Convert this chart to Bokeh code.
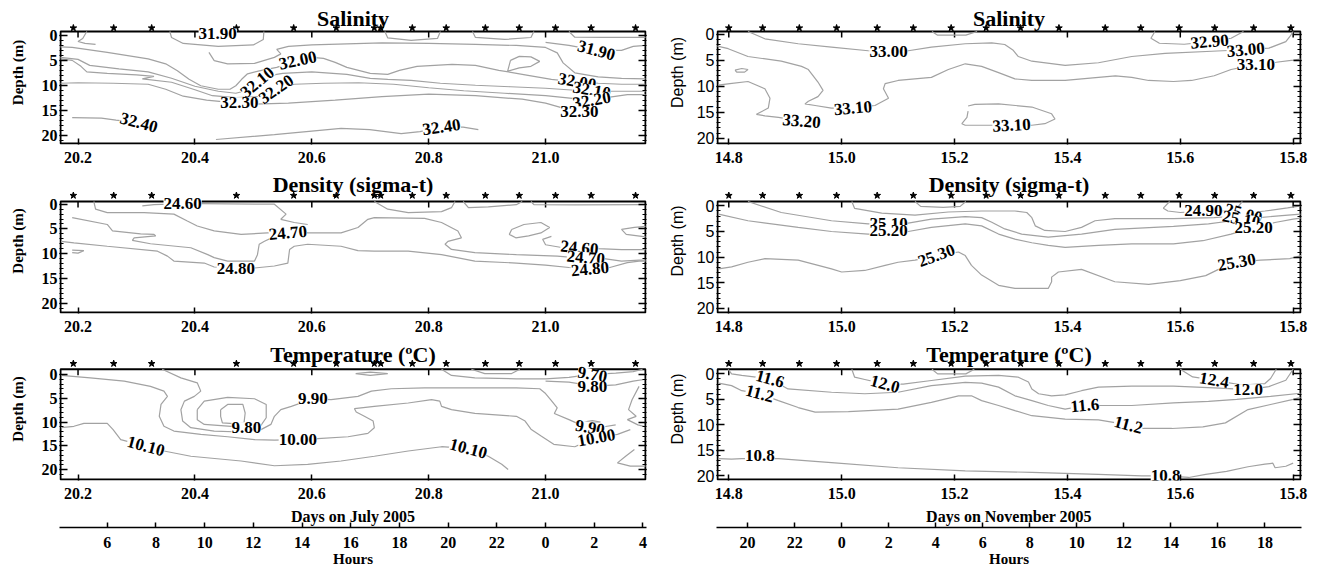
import math
from bokeh.plotting import figure
from bokeh.models import (Range1d, LinearAxis, FixedTicker, ColumnDataSource,
                          CustomJSTickFormatter, PrintfTickFormatter)
from bokeh.layouts import column, row
from bokeh.embed import file_html
from bokeh.resources import INLINE
from bokeh.core.properties import value

SERIF = "Liberation Serif"
SANS = "Liberation Sans"
LINE_COLOR = "#a2a2a2"

# ---------------- axes / ticks ----------------
JUL_DAY_TICKS = [20.2, 20.4, 20.6, 20.8, 21.0]
NOV_DAY_TICKS = [14.8, 15.0, 15.2, 15.4, 15.6, 15.8]
DEPTH_TICKS = [0, 5, 10, 15, 20]
DEPTH_MINOR = list(range(0, 22))
JUL_HOUR_POS = [6, 8, 10, 12, 14, 16, 18, 20, 22, 24, 26, 28]
JUL_HOUR_TXT = ["6", "8", "10", "12", "14", "16", "18", "20", "22", "0", "2", "4"]
NOV_HOUR_POS = [20, 22, 24, 26, 28, 30, 32, 34, 36, 38, 40, 42]
NOV_HOUR_TXT = ["20", "22", "0", "2", "4", "6", "8", "10", "12", "14", "16", "18"]

# day extent of each column and depth extent of each panel
JUL_DAYS = (20.17, 21.171)
NOV_DAYS = (14.78, 15.813)
JUL_DEPTHS = [(-0.8, 21.7), (-0.55, 21.9), (-1.1, 22.1)]
NOV_DEPTHS = [(-0.5, 21.0), (-0.85, 20.8), (-0.9, 20.7)]

# CTD cast times (stars above each panel)
JUL_STARS = [20.192, 20.261, 20.326, 20.471, 20.569, 20.642, 20.707, 20.718, 20.772,
             20.83, 20.897, 20.955, 21.017, 21.078, 21.154]
NOV_STARS = [14.80, 14.86, 14.925, 14.991, 15.063, 15.127, 15.194, 15.256, 15.317,
             15.385, 15.467, 15.53, 15.598, 15.661, 15.73, 15.796]

# ---------------- July: Salinity ----------------
LS_X = [
    [20.357, 20.36, 20.38, 20.44, 20.50, 20.517, 20.518],
    [20.725, 20.73, 20.77, 20.815, 20.82],
    [20.875, 20.88, 20.93, 20.975, 20.98],
    [21.04, 21.05, 21.10, 21.171],
    [21.00, 21.04, 21.087, 21.13, 21.15, 21.171],
    [20.215, 20.208, 20.20, 20.212, 20.23],
    [20.424, 20.433, 20.456, 20.502, 20.536, 20.547, 20.54, 20.56, 20.60, 20.66, 20.72, 20.80,
     20.88, 20.95, 21.00, 21.02, 21.03, 21.05, 21.09, 21.13, 21.171],
    [20.17, 20.19, 20.25, 20.32, 20.35, 20.37, 20.39, 20.41, 20.44, 20.46, 20.47, 20.48, 20.49,
     20.51, 20.54, 20.576, 20.60, 20.62, 20.64, 20.66, 20.70, 20.73, 20.75, 20.78, 20.84, 20.88,
     20.92, 20.97, 21.01, 21.04, 21.054, 21.09, 21.13, 21.171],
    [20.17, 20.20, 20.22, 20.27, 20.32, 20.36, 20.40, 20.44, 20.47, 20.49, 20.507, 20.52, 20.55,
     20.60, 20.66, 20.70, 20.73, 20.77, 20.82, 20.88, 20.94, 21.00, 21.05, 21.079, 21.11, 21.171],
    [20.17, 20.19, 20.205, 20.215, 20.25, 20.30, 20.33, 20.31, 20.36, 20.40, 20.43, 20.47, 20.51,
     20.539, 20.57, 20.62, 20.68, 20.74, 20.80, 20.86, 20.93, 21.00, 21.05, 21.079, 21.11, 21.14,
     21.171],
    [20.17, 20.20, 20.26, 20.32, 20.35, 20.38, 20.42, 20.455, 20.476, 20.50, 20.56, 20.64, 20.72,
     20.80, 20.88, 20.96, 21.00, 21.03, 21.058],
    [20.19, 20.24, 20.265, 20.30],
    [20.436, 20.536, 20.65, 20.699, 20.753, 20.785, 20.822, 20.859, 20.885],
    [20.94, 20.955, 20.975, 20.99, 20.975, 20.955, 20.935, 20.94],
]
LS_Y = [
    [-0.8, 0.4, 1.6, 2.2, 1.9, 0.8, -0.8],
    [-0.8, 0.5, 1.0, 0.6, -0.8],
    [-0.8, 0.4, 0.8, 0.4, -0.8],
    [-0.8, 0.35, 0.4, 0.4],
    [1.4, 2.0, 3.0, 3.0, 2.2, 2.0],
    [-0.8, 0.6, 1.2, 1.6, 1.8],
    [3.4, 5.05, 5.7, 5.6, 4.4, 3.7, 2.8, 2.2, 1.9, 1.7, 1.5, 1.6, 1.8, 2.0, 2.4, 3.5, 5.5, 7.5,
     8.3, 8.6, 8.7],
    [2.3, 2.4, 3.4, 4.7, 5.7, 7.1, 8.8, 10.1, 10.8, 10.8, 10.1, 8.8, 7.7, 7.1, 6.4, 5.0, 4.4, 4.6,
     5.4, 6.4, 7.6, 7.8, 7.0, 6.2, 5.8, 6.0, 7.0, 8.0, 8.8, 9.2, 9.3, 9.6, 9.8, 9.8],
    [4.4, 4.8, 6.0, 6.7, 7.3, 8.6, 10.2, 11.2, 11.6, 11.0, 9.4, 8.2, 7.6, 7.3, 7.8, 8.6, 8.8, 9.0,
     9.6, 10.0, 10.3, 10.6, 11.0, 11.0, 11.2, 11.2],
    [4.7, 5.0, 6.2, 7.3, 7.6, 7.9, 8.2, 8.7, 9.4, 10.9, 12.1, 12.5, 12.3, 10.8, 9.8, 9.6, 9.5,
     9.8, 10.5, 11.1, 11.6, 12.1, 12.7, 13.0, 12.4, 11.9, 11.9],
    [9.6, 9.5, 9.6, 9.8, 10.8, 12.2, 13.0, 13.4, 13.5, 13.8, 13.6, 13.0, 12.3, 11.8, 12.1, 12.8,
     13.6, 14.6, 15.3],
    [16.5, 16.6, 17.0, 17.5],
    [20.9, 19.9, 18.65, 18.9, 19.7, 19.3, 18.4, 18.4, 18.9],
    [5.0, 4.2, 4.3, 5.2, 6.2, 6.5, 7.2, 5.0],
]
LS_LAB_T = ["31.90", "32.00", "32.10", "32.20", "32.30", "32.40", "32.40", "31.90", "32.00",
            "32.10", "32.20", "32.30"]
LS_LAB_X = [20.439, 20.576, 20.507, 20.539, 20.476, 20.304, 20.822, 21.087, 21.054, 21.079,
            21.079, 21.058]
LS_LAB_Y = [-0.3, 5.0, 9.4, 10.8, 13.5, 17.5, 18.4, 3.0, 9.3, 11.0, 13.0, 15.3]
LS_LAB_A = [0, 12, 40, 35, 0, -15, 8, -15, -10, -10, 10, 0]

# ---------------- July: Density ----------------
LD_X = [
    [20.31, 20.33, 20.379, 20.41, 20.536, 20.556, 20.547, 20.57, 20.593],
    [20.227, 20.23, 20.25, 20.313, 20.364, 20.387, 20.404, 20.433, 20.479, 20.524, 20.559,
     20.593, 20.65, 20.679, 20.696, 20.707, 20.793, 20.822, 20.85, 20.856, 20.833, 20.828,
     20.839, 20.879, 20.95, 21.02, 21.05, 21.069, 21.10, 21.13, 21.16, 21.171],
    [20.171, 20.193, 20.25, 20.336, 20.353, 20.364, 20.416, 20.433, 20.47, 20.502, 20.536,
     20.559, 20.562, 20.57, 20.593, 20.65, 20.679, 20.707, 20.765, 20.822, 20.879, 20.95,
     21.00, 21.04, 21.076, 21.11, 21.14, 21.16, 21.171],
    [20.19, 20.25, 20.259, 20.307, 20.33, 20.333, 20.296, 20.293, 20.324, 20.393, 20.422,
     20.433, 20.456, 20.502, 20.507, 20.51, 20.519, 20.535],
    [20.707, 20.73, 20.765, 20.822, 20.839, 20.845],
    [20.859, 20.868, 20.902, 20.95, 20.96],
    [20.975, 20.98, 21.05, 21.171],
    [21.01, 20.995, 21.0, 21.03, 21.058, 21.09, 21.13, 21.171],
    [20.942, 20.963, 20.992, 21.007, 20.992, 20.971, 20.949, 20.938, 20.942],
    [21.171, 21.152, 21.13, 21.138, 21.171],
    [20.19, 20.21, 20.2, 20.19],
]
LD_Y = [
    [0.35, 0.1, -0.1, -0.1, 0.0, 2.0, 3.05, 3.7, 4.1],
    [-0.55, 1.0, 1.7, 1.7, 2.0, 3.4, 4.4, 5.4, 6.1, 5.8, 5.8, 5.8, 5.8, 4.7, 3.05, 2.7, 2.85,
     3.7, 5.4, 6.8, 7.5, 8.1, 9.15, 9.8, 10.2, 10.5, 10.8, 10.8, 11.0, 11.5, 11.3, 11.3],
    [7.5, 7.8, 8.5, 9.5, 10.5, 11.5, 11.9, 12.7, 12.9, 12.9, 12.5, 11.9, 9.15, 8.5, 8.1, 8.5,
     9.4, 9.5, 9.5, 10.2, 11.5, 11.9, 12.3, 12.8, 13.1, 12.8, 11.8, 11.5, 11.5],
    [2.7, 4.1, 5.4, 6.0, 6.1, 6.4, 6.8, 7.3, 8.0, 8.8, 10.2, 10.8, 11.5, 11.5, 10.2, 8.1, 7.5,
     6.6],
    [-0.55, 1.0, 1.7, 1.5, 0.7, -0.55],
    [-0.55, 0.7, 0.55, 0.1, -0.55],
    [-0.55, 0.1, 0.15, 0.1],
    [6.5, 7.1, 8.2, 8.8, 8.8, 9.0, 9.2, 9.2],
    [5.1, 4.1, 3.7, 4.7, 5.8, 6.4, 6.8, 6.1, 5.1],
    [4.5, 4.7, 5.1, 6.1, 6.6],
    [9.3, 9.4, 9.9, 9.8],
]
LD_LAB_T = ["24.60", "24.70", "24.80", "24.60", "24.70", "24.80"]
LD_LAB_X = [20.379, 20.559, 20.47, 21.058, 21.069, 21.076]
LD_LAB_Y = [-0.1, 5.8, 12.9, 8.8, 10.8, 13.1]
LD_LAB_A = [0, 5, 0, -5, -5, 5]

# ---------------- July: Temperature ----------------
LT_X = [
    [20.171, 20.193, 20.21, 20.25, 20.26, 20.273, 20.316, 20.347, 20.393, 20.479, 20.536,
     20.593, 20.65, 20.707, 20.765, 20.822, 20.868, 20.902, 20.925, 20.936],
    [20.171, 20.221, 20.279, 20.324, 20.347, 20.353, 20.342, 20.339, 20.347, 20.364, 20.41,
     20.456, 20.502, 20.536, 20.576, 20.61, 20.662, 20.696, 20.707, 20.705, 20.69, 20.676,
     20.673, 20.707, 20.765, 20.805, 20.819, 20.822, 20.839, 20.879, 20.95, 20.965, 20.975,
     20.993, 21.014, 21.05, 21.065, 21.087, 21.123, 21.145],
    [20.344, 20.376, 20.404, 20.41, 20.399, 20.382, 20.376, 20.379, 20.393, 20.433, 20.479,
     20.513, 20.53, 20.536, 20.547, 20.565, 20.602, 20.633, 20.679, 20.702, 20.736, 20.793,
     20.85, 20.95, 20.99, 21.0, 21.01, 21.02, 21.015, 21.04, 21.06, 21.076, 21.10, 21.12],
    [20.404, 20.416, 20.456, 20.502, 20.522, 20.522, 20.513, 20.488, 20.462, 20.416, 20.404,
     20.404],
    [20.444, 20.456, 20.482, 20.486, 20.484, 20.473, 20.447, 20.444, 20.444],
    [20.675, 20.70, 20.73, 20.70, 20.675],
    [20.822, 20.839, 20.879, 20.95, 21.0, 21.04, 21.065, 21.08, 21.12, 21.15, 21.166],
    [20.873, 20.896, 20.942, 20.956],
    [21.0, 21.04, 21.065, 21.08, 21.12, 21.15, 21.171],
    [21.16, 21.148, 21.142, 21.155, 21.14, 21.158, 21.171],
    [21.152, 21.137, 21.123, 21.145, 21.171],
    [21.065, 21.08, 21.094, 21.08, 21.065],
]
LT_Y = [
    [11.2, 10.9, 10.3, 10.3, 11.6, 13.7, 15.1, 16.1, 17.2, 18.2, 19.2, 18.9, 18.2, 17.2, 16.1,
     15.2, 15.6, 17.2, 18.9, 20.0],
    [0.2, 0.7, 1.4, 2.5, 3.5, 4.6, 6.3, 8.8, 10.9, 11.9, 12.6, 13.1, 13.7, 13.8, 13.7, 13.5,
     13.1, 12.4, 11.2, 9.8, 8.8, 7.9, 7.2, 6.7, 6.0, 5.3, 5.6, 6.7, 7.4, 8.2, 8.8, 9.8, 11.5,
     13.0, 14.7, 15.2, 14.4, 13.3, 12.6, 11.6],
    [-1.1, 0.7, 1.75, 3.5, 4.6, 5.6, 7.4, 9.8, 11.2, 11.9, 12.1, 11.6, 10.5, 8.8, 7.4, 6.7,
     5.1, 5.3, 4.6, 3.5, 3.0, 2.8, 2.8, 2.8, 3.0, 4.0, 5.5, 7.0, 8.2, 9.5, 10.6, 11.2, 11.0,
     10.6],
    [7.4, 5.6, 4.8, 5.1, 6.3, 9.1, 10.7, 11.2, 10.9, 10.5, 9.5, 7.4],
    [7.4, 6.3, 6.3, 8.1, 10.2, 10.4, 10.2, 8.8, 7.4],
    [-0.2, 0.2, -0.2, -0.5, -0.2],
    [-1.1, 0.2, 0.7, 0.9, 0.9, 0.6, 0.2, 0.0, -0.3, -0.6, -1.1],
    [-1.1, -0.2, -0.2, -1.1],
    [1.4, 1.6, 2.1, 2.5, 2.2, 1.4, 1.0],
    [2.5, 5.3, 7.4, 8.8, 9.5, 10.6, 11.0],
    [15.8, 17.2, 18.6, 19.3, 19.3],
    [10.0, 9.7, 10.0, 10.3, 10.0],
]
LT_LAB_T = ["9.90", "9.80", "10.00", "10.10", "10.10", "9.70", "9.80", "9.90", "10.00"]
LT_LAB_X = [20.602, 20.488, 20.576, 20.316, 20.868, 21.08, 21.08, 21.076, 21.087]
LT_LAB_Y = [5.1, 11.2, 13.7, 15.1, 15.6, 0.0, 2.5, 11.2, 13.3]
LT_LAB_A = [0, 0, 0, -15, -15, -10, 0, -10, 10]

# ---------------- November: Salinity ----------------
RS_X = [
    [14.834, 14.864, 14.923, 14.982, 15.047, 15.083, 15.118, 15.159, 15.219, 15.266, 15.289,
     15.304, 15.313, 15.337, 15.396, 15.455, 15.514, 15.573, 15.675, 15.716, 15.757, 15.787,
     15.794, 15.80],
    [14.781, 14.802, 14.834, 14.864, 14.873, 14.87, 14.849, 14.864, 14.888, 14.929],
    [14.78, 14.799, 14.834, 14.893, 14.929, 14.941, 14.958, 14.967, 14.958, 14.941, 14.935,
     14.953, 14.982, 15.02, 15.059, 15.083, 15.074, 15.077, 15.10, 15.159, 15.189, 15.219,
     15.248, 15.278, 15.307, 15.337, 15.396, 15.455, 15.485, 15.514, 15.544, 15.588, 15.62,
     15.66, 15.69, 15.734, 15.77, 15.80, 15.813],
    [14.811, 14.823, 14.834, 14.828, 14.814, 14.811],
    [15.224, 15.236, 15.278, 15.337, 15.372, 15.378, 15.36, 15.337, 15.301, 15.254, 15.219,
     15.213, 15.222, 15.224],
    [15.555, 15.548, 15.563, 15.607, 15.652, 15.69, 15.712],
    [15.16, 15.17, 15.22, 15.24],
]
RS_Y = [
    [-0.5, 0.9, 1.85, 2.5, 3.2, 3.4, 3.2, 2.5, 1.85, 1.7, 2.0, 3.1, 4.3, 5.2, 6.0, 5.5, 4.3,
     3.7, 3.2, 3.0, 2.7, 1.45, 0.5, -0.5],
    [9.8, 9.5, 9.1, 10.5, 12.3, 14.2, 15.4, 15.7, 16.0, 16.7],
    [2.3, 2.8, 4.3, 5.2, 6.2, 6.8, 9.2, 10.8, 12.0, 12.9, 13.4, 13.7, 14.2, 14.2, 13.7, 12.3,
     10.5, 9.5, 8.9, 8.3, 6.8, 5.7, 6.2, 7.4, 8.6, 8.9, 8.9, 8.3, 8.0, 8.3, 8.9, 9.1, 8.9, 8.0,
     6.8, 5.85, 5.4, 5.0, 4.8],
    [6.9, 6.6, 6.8, 7.3, 7.3, 6.9],
    [13.8, 13.5, 13.4, 14.0, 15.3, 16.3, 17.2, 17.5, 17.5, 17.5, 17.5, 17.2, 16.0, 14.8],
    [-0.5, 0.8, 1.76, 1.95, 1.45, 0.8, -0.5],
    [-0.5, 0.2, 0.2, -0.5],
]
RS_LAB_T = ["33.00", "33.10", "33.20", "33.10", "32.90", "33.00", "33.10"]
RS_LAB_X = [15.083, 15.02, 14.929, 15.301, 15.652, 15.716, 15.734]
RS_LAB_Y = [3.4, 14.2, 16.7, 17.5, 1.45, 3.0, 5.85]
RS_LAB_A = [0, 5, -5, 3, 5, 5, 0]

# ---------------- November: Density ----------------
RD_X = [
    [15.018, 15.023, 15.071, 15.13, 15.189, 15.248, 15.307, 15.328, 15.337, 15.343, 15.36,
     15.396, 15.425, 15.449, 15.484, 15.588, 15.66, 15.69, 15.712, 15.75, 15.79, 15.813],
    [14.834, 14.893, 14.982, 15.047, 15.083, 15.118, 15.159, 15.219, 15.248, 15.266, 15.289,
     15.319, 15.366, 15.425, 15.484, 15.588, 15.65, 15.685, 15.708, 15.74, 15.78, 15.813],
    [14.782, 14.834, 14.923, 14.982, 15.047, 15.083, 15.118, 15.159, 15.219, 15.248, 15.278,
     15.307, 15.337, 15.366, 15.396, 15.455, 15.514, 15.588, 15.64, 15.69, 15.73, 15.77, 15.80,
     15.813],
    [15.581, 15.57, 15.578, 15.60, 15.641, 15.678, 15.70, 15.71],
    [14.782, 14.805, 14.834, 14.864, 14.923, 14.982, 15.0, 15.041, 15.077, 15.10, 15.13,
     15.168, 15.207, 15.219, 15.23, 15.248, 15.278, 15.307, 15.366, 15.372, 15.372, 15.384,
     15.425, 15.484, 15.544, 15.60, 15.645, 15.675, 15.70, 15.742, 15.794, 15.814],
    [15.13, 15.14, 15.18, 15.21, 15.22],
]
RD_Y = [
    [-0.85, 0.5, 1.4, 1.8, 1.2, 1.0, 1.0, 1.3, 2.3, 3.9, 4.8, 5.0, 4.2, 2.9, 2.5, 2.5, 2.3,
     2.0, 1.5, 1.0, 0.4, 0.0],
    [-0.85, 1.3, 2.9, 3.5, 3.35, 3.35, 2.6, 2.1, 2.3, 3.2, 4.5, 5.5, 6.1, 5.5, 4.6, 4.0, 3.5,
     3.0, 2.6, 2.3, 1.9, 1.6],
    [1.6, 2.9, 4.2, 5.0, 5.5, 5.3, 5.0, 4.2, 3.5, 3.9, 5.5, 6.5, 7.2, 7.7, 8.1, 7.7, 7.4, 7.4,
     6.8, 5.5, 4.2, 3.2, 2.6, 2.4],
    [-0.85, 0.45, 1.0, 1.3, 1.0, 1.0, 0.5, -0.85],
    [12.3, 11.9, 11.0, 10.3, 10.6, 12.3, 12.9, 12.6, 11.6, 11.0, 10.6, 9.7, 9.0, 9.7, 11.6,
     13.5, 15.5, 16.1, 16.1, 14.8, 13.9, 12.9, 12.4, 14.8, 15.3, 14.6, 13.6, 12.0, 11.0, 10.6,
     10.3, 9.7],
    [-0.85, 0.1, 0.3, 0.1, -0.85],
]
RD_LAB_T = ["25.10", "25.20", "25.30", "24.90", "25.00", "25.10", "25.20", "25.30"]
RD_LAB_X = [15.083, 15.083, 15.168, 15.641, 15.712, 15.708, 15.73, 15.70]
RD_LAB_Y = [3.35, 4.8, 9.7, 1.0, 1.5, 2.6, 4.2, 11.0]
RD_LAB_A = [0, 0, 20, 0, -15, -10, 0, 10]

# ---------------- November: Temperature ----------------
RT_X = [
    [15.60, 15.622, 15.66, 15.71, 15.75, 15.76, 15.77],
    [15.018, 15.023, 15.041, 15.077, 15.109, 15.159, 15.219, 15.278, 15.313, 15.331, 15.337,
     15.349, 15.372, 15.396, 15.425, 15.455, 15.514, 15.588, 15.67, 15.72, 15.757, 15.787,
     15.80],
    [14.799, 14.805, 14.823, 14.873, 14.905, 14.982, 15.041, 15.10, 15.159, 15.219, 15.248,
     15.278, 15.307, 15.337, 15.366, 15.396, 15.431, 15.461, 15.514, 15.588, 15.65, 15.70,
     15.76, 15.813],
    [14.782, 14.805, 14.823, 14.855, 14.888, 14.923, 14.953, 15.012, 15.10, 15.159, 15.207,
     15.23, 15.248, 15.278, 15.307, 15.337, 15.396, 15.455, 15.508, 15.535, 15.585, 15.64,
     15.68, 15.72, 15.76, 15.80, 15.813],
    [14.782, 14.805, 14.823, 14.855, 14.888, 14.982, 15.10, 15.219, 15.337, 15.455, 15.532,
     15.574, 15.615, 15.645, 15.682, 15.72, 15.75, 15.764, 15.768, 15.787, 15.80],
    [15.16, 15.17, 15.22, 15.235],
]
RT_Y = [
    [-0.9, 0.6, 1.25, 2.2, 1.9, 0.9, -0.9],
    [-0.9, 0.65, 1.1, 2.0, 2.0, 1.3, 0.45, 0.3, 0.65, 1.6, 2.95, 3.9, 4.3, 4.1, 3.3, 2.6, 2.4,
     2.4, 2.8, 3.1, 2.5, 1.25, -0.9],
    [-0.9, 0.0, 0.3, 1.0, 2.95, 3.6, 3.9, 3.6, 2.3, 1.65, 1.8, 2.6, 4.3, 5.25, 6.2, 6.9, 6.2,
     6.2, 6.2, 5.7, 5.4, 5.0, 4.4, 3.8],
    [1.8, 2.3, 3.3, 3.9, 5.25, 6.6, 7.5, 7.4, 6.9, 5.6, 4.3, 4.3, 5.25, 6.2, 7.2, 8.2, 8.85,
     9.0, 10.0, 10.7, 10.7, 10.4, 9.6, 7.0, 6.0, 5.0, 4.6],
    [16.6, 16.7, 16.6, 16.6, 16.6, 17.4, 18.4, 19.0, 19.3, 19.7, 20.0, 20.0, 20.3, 19.7, 19.1,
     18.2, 17.7, 17.5, 18.4, 18.1, 17.5],
    [-0.9, 0.0, 0.0, -0.9],
]
RT_LAB_T = ["11.6", "11.2", "12.0", "11.6", "11.2", "10.8", "12.4", "12.0", "10.8"]
RT_LAB_X = [14.873, 14.855, 15.077, 15.431, 15.508, 14.855, 15.66, 15.72, 15.574]
RT_LAB_Y = [1.0, 3.9, 2.0, 6.2, 10.0, 15.9, 1.25, 3.1, 19.9]
RT_LAB_A = [-15, -15, -15, 5, -15, 0, -10, 0, 0]

# ---------------- pixel layout (page coordinates) ----------------
PAD = 1                      # frame extends 1px beyond the drawn box
L_BOX_PX = (60, 645)
R_BOX_PX = (717, 1300)
L_W, R_W = 660, 651
ROW_FIG_TOP = [0, 168, 337]
ROW_BOX_TOP = [31, 201, 369]
ROW_BOX_BOT = [143, 312, 480]
ROW_FIG_BOT = [168, 337, 569]
ROW_TITLE_Y = [18, 184, 354.5]
ROW_STAR_Y = [27.5, 195, 363.3]

BLANK = CustomJSTickFormatter(code="return ''")


def style_axis(ax, font, bold, size="16px"):
    ax.axis_line_color = None
    ax.major_label_text_font = font
    ax.major_label_text_font_style = "bold" if bold else "normal"
    ax.major_label_text_font_size = size
    ax.major_label_text_color = "black"
    ax.major_tick_line_color = "black"
    ax.minor_tick_line_color = "black"
    ax.major_tick_line_width = 1.5
    ax.minor_tick_line_width = 1.2
    ax.major_tick_out = 0
    ax.minor_tick_out = 0


def make_panel(r, days, depths, box_px, fig_left, fig_w, xs, ys, lt, lx, ly, la, xticks,
               stars, title, sans_y):
    d0, d1 = days
    z0, z1 = depths
    pxd = (box_px[1] - box_px[0]) / (d1 - d0)
    pxm = (ROW_BOX_BOT[r] - ROW_BOX_TOP[r]) / (z1 - z0)

    def zat(y):
        return z0 + (y - ROW_BOX_TOP[r]) / pxm

    xr = Range1d(d0 - PAD / pxd, d1 + PAD / pxd)
    yr = Range1d(zat(ROW_BOX_BOT[r] + PAD), zat(ROW_FIG_TOP[r]))
    lb = box_px[0] - PAD - fig_left
    frame_w = box_px[1] - box_px[0] + 2 * PAD
    rb = fig_w - lb - frame_w
    h = ROW_FIG_BOT[r] - ROW_FIG_TOP[r]
    bb = ROW_FIG_BOT[r] - (ROW_BOX_BOT[r] + PAD)

    p = figure(width=fig_w, height=h, x_range=xr, y_range=yr, output_backend="svg",
               toolbar_location=None, min_border_left=lb, min_border_right=rb,
               min_border_top=0, min_border_bottom=bb)
    p.outline_line_color = None
    p.xgrid.visible = False
    p.ygrid.visible = False
    p.background_fill_color = "white"

    # stars and title above the box
    p.scatter(x=stars, y=[zat(ROW_STAR_Y[r])] * len(stars), marker="star", size=7,
              color="black")
    p.text(x=[(d0 + d1) / 2.0], y=[zat(ROW_TITLE_Y[r])], text=[title],
           text_font=value(SERIF), text_font_style="bold", text_font_size="22px",
           text_align="center", text_baseline="middle", text_color="black")

    # box and top-edge ticks
    p.quad(left=[d0], right=[d1], top=[z0], bottom=[z1], fill_color=None,
           line_color="black", line_width=2)
    p.segment(x0=xticks, y0=[z0] * len(xticks), x1=xticks,
              y1=[z0 + 6.0 / pxm] * len(xticks), line_color="black", line_width=1.5)

    # contours and their labels
    p.multi_line(xs=xs, ys=ys, line_color=LINE_COLOR, line_width=1.2)
    src = ColumnDataSource(dict(x=lx, y=ly, t=lt, a=[math.radians(v) for v in la]))
    p.text(x="x", y="y", text="t", angle="a", source=src, text_font=value(SERIF),
           text_font_style="bold", text_font_size="17px", text_align="center",
           text_baseline="middle", text_color="black", background_fill_color="white")

    xa = p.below[0]
    xa.ticker = FixedTicker(ticks=xticks, minor_ticks=[])
    xa.formatter = PrintfTickFormatter(format="%.1f")
    style_axis(xa, SERIF, True)
    xa.major_tick_in = 6
    xa.major_label_standoff = 7

    yfont = SANS if sans_y else SERIF
    ya = p.left[0]
    ya.ticker = FixedTicker(ticks=DEPTH_TICKS, minor_ticks=DEPTH_MINOR)
    style_axis(ya, yfont, not sans_y)
    ya.major_tick_in = 8
    ya.minor_tick_in = 4
    ya.major_label_standoff = 2
    ya.axis_label = "Depth (m)"
    ya.axis_label_text_font = yfont
    ya.axis_label_text_font_style = "normal" if sans_y else "bold"
    ya.axis_label_text_font_size = "16px" if sans_y else "15px"
    ya.axis_label_text_color = "black"
    ya.axis_label_standoff = 8 if sans_y else 13

    ra = LinearAxis(ticker=FixedTicker(ticks=DEPTH_TICKS, minor_ticks=DEPTH_MINOR),
                    formatter=BLANK)
    style_axis(ra, yfont, False, "0px")
    ra.major_tick_in = 8
    ra.minor_tick_in = 4
    ra.major_label_standoff = 0
    p.add_layout(ra, "right")
    return p, xa, xr


def add_bottom(p, xa, xr, day0, label, hpos, htxt):
    xa.axis_label = label
    xa.axis_label_text_font = SERIF
    xa.axis_label_text_font_style = "bold"
    xa.axis_label_text_font_size = "16px"
    xa.axis_label_text_color = "black"
    xa.axis_label_standoff = 6
    p.extra_x_ranges = {"hours": Range1d((xr.start - day0) * 24.0, (xr.end - day0) * 24.0)}
    ha = LinearAxis(x_range_name="hours", ticker=FixedTicker(ticks=hpos, minor_ticks=[]),
                    major_label_overrides={k: t for k, t in zip(hpos, htxt)},
                    axis_label="Hours")
    style_axis(ha, SERIF, True)
    ha.axis_line_color = "black"
    ha.axis_line_width = 1.5
    ha.major_tick_in = 5
    ha.major_label_standoff = 9
    ha.axis_label_text_font = SERIF
    ha.axis_label_text_font_style = "bold"
    ha.axis_label_text_font_size = "15px"
    ha.axis_label_text_color = "black"
    ha.axis_label_standoff = 0
    p.add_layout(ha, "below")


TITLES = ["Salinity", "Density (sigma-t)", "Temperature (\u00baC)"]

jul_data = [(LS_X, LS_Y, LS_LAB_T, LS_LAB_X, LS_LAB_Y, LS_LAB_A),
            (LD_X, LD_Y, LD_LAB_T, LD_LAB_X, LD_LAB_Y, LD_LAB_A),
            (LT_X, LT_Y, LT_LAB_T, LT_LAB_X, LT_LAB_Y, LT_LAB_A)]
nov_data = [(RS_X, RS_Y, RS_LAB_T, RS_LAB_X, RS_LAB_Y, RS_LAB_A),
            (RD_X, RD_Y, RD_LAB_T, RD_LAB_X, RD_LAB_Y, RD_LAB_A),
            (RT_X, RT_Y, RT_LAB_T, RT_LAB_X, RT_LAB_Y, RT_LAB_A)]

left_items, right_items = [], []
last_left = last_right = None
for i in range(3):
    xs, ys, lt, lx, ly, la = jul_data[i]
    pl, xal, xrl = make_panel(i, JUL_DAYS, JUL_DEPTHS[i], L_BOX_PX, 0, L_W, xs, ys, lt, lx,
                              ly, la, JUL_DAY_TICKS, JUL_STARS, TITLES[i], False)
    left_items.append(pl)
    last_left = (pl, xal, xrl)

    xs, ys, lt, lx, ly, la = nov_data[i]
    pr, xar, xrr = make_panel(i, NOV_DAYS, NOV_DEPTHS[i], R_BOX_PX, L_W, R_W, xs, ys, lt, lx,
                              ly, la, NOV_DAY_TICKS, NOV_STARS, TITLES[i], True)
    right_items.append(pr)
    last_right = (pr, xar, xrr)

add_bottom(last_left[0], last_left[1], last_left[2], 20.0, "Days on July 2005",
           JUL_HOUR_POS, JUL_HOUR_TXT)
add_bottom(last_right[0], last_right[1], last_right[2], 14.0, "Days on November 2005",
           NOV_HOUR_POS, NOV_HOUR_TXT)

layout = row(column(*left_items), column(*right_items))

with open("out.html", "w") as f:
    f.write(file_html(layout, INLINE))
